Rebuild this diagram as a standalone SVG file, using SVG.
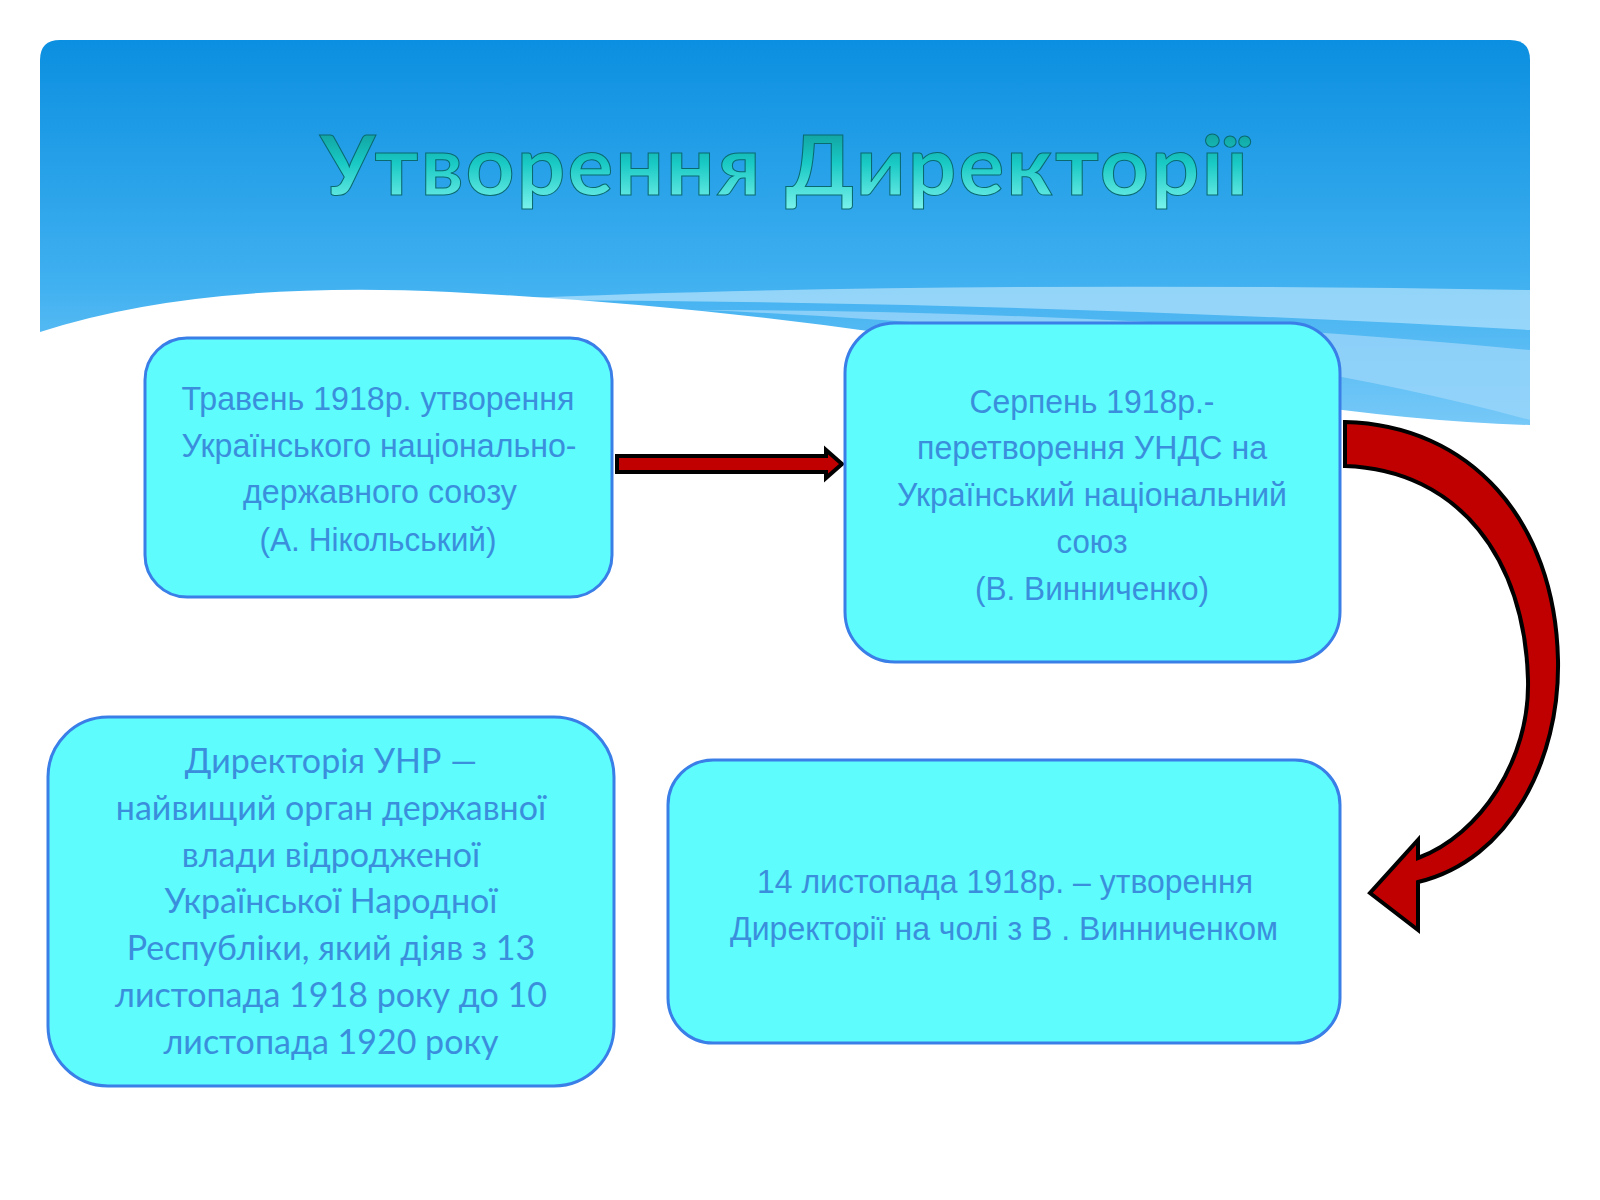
<svg xmlns="http://www.w3.org/2000/svg" width="1600" height="1200" viewBox="0 0 1600 1200">
<defs>
<linearGradient id="sky" x1="0" y1="0" x2="0" y2="1">
<stop offset="0" stop-color="#0B8FE0"/><stop offset="0.6" stop-color="#3FB0F0"/><stop offset="1" stop-color="#7CCBF8"/>
</linearGradient>
<linearGradient id="tt" x1="0" y1="0" x2="0" y2="1">
<stop offset="0" stop-color="#0C8C8C"/><stop offset="0.5" stop-color="#19C9C4"/><stop offset="1" stop-color="#7FF5EE"/>
</linearGradient>
<style>
.box{fill:#5EFCFC;stroke:#3A7EE8;stroke-width:3}
.n{font-family:"Liberation Sans",Arial,sans-serif;font-size:33px;fill:#3A8EDC;text-anchor:middle}
.c{font-family:Lato,"Open Sans",sans-serif;font-size:34px;fill:#3A8EDC;text-anchor:middle}
.arr{fill:#C00000;stroke:#000;stroke-width:4;stroke-linejoin:miter}
</style>
</defs>
<rect width="1600" height="1200" fill="#fff"/>
<path d="M40,60 Q40,40 60,40 L1510,40 Q1530,40 1530,60 L1530,440 L40,440 Z" fill="url(#sky)"/>
<path d="M480,300 Q900,280 1530,290 L1530,330 Q1000,300 480,300 Z" fill="#A8DDFB" opacity="0.8"/>
<path d="M700,310 Q1100,310 1530,350 L1530,420 Q1200,330 700,310 Z" fill="#9AD6FA" opacity="0.8"/>
<path d="M40,332 Q200,280 450,292 Q800,310 1100,370 Q1350,420 1530,425 L1530,1200 L40,1200 Z" fill="#fff"/>
<text x="785" y="195" font-family="Lato,'Open Sans',sans-serif" font-size="82" font-weight="bold" fill="url(#tt)" stroke="#0A6A70" stroke-width="1" text-anchor="middle" textLength="930" lengthAdjust="spacingAndGlyphs" letter-spacing="2">Утворення Директорії</text>

<g id="connectors">
<path class="arr" d="M617,456 L826,456 L826,450 L842,464 L826,478 L826,472 L617,472 Z"/>
<path class="arr" d="M1345,422 C1470,425 1555,520 1558,660 C1560,760 1510,860 1418,882 L1418,930 L1370,893 L1418,840 L1418,858 C1480,835 1530,760 1528,680 C1525,560 1460,470 1345,466 Z"/>
</g>

<g id="n1">
<rect class="box" x="145" y="338" width="467" height="259" rx="42"/>
<text class="n" x="378" y="410" textLength="393" lengthAdjust="spacingAndGlyphs">Травень 1918р. утворення</text>
<text class="n" x="379" y="457" textLength="395" lengthAdjust="spacingAndGlyphs">Українського національно-</text>
<text class="n" x="380" y="503" textLength="274" lengthAdjust="spacingAndGlyphs">державного союзу</text>
<text class="n" x="378" y="551" textLength="237" lengthAdjust="spacingAndGlyphs">(А. Нікольський)</text>
</g>
<g id="n2">
<rect class="box" x="845" y="323" width="495" height="339" rx="50"/>
<text class="n" x="1092" y="413" textLength="245" lengthAdjust="spacingAndGlyphs">Серпень 1918р.-</text>
<text class="n" x="1092" y="459" textLength="350" lengthAdjust="spacingAndGlyphs">перетворення УНДС на</text>
<text class="n" x="1092" y="506" textLength="390" lengthAdjust="spacingAndGlyphs">Український національний</text>
<text class="n" x="1092" y="553" textLength="71" lengthAdjust="spacingAndGlyphs">союз</text>
<text class="n" x="1092" y="600" textLength="234" lengthAdjust="spacingAndGlyphs">(В. Винниченко)</text>
</g>
<g id="n3">
<rect class="box" x="48" y="717" width="566" height="369" rx="60"/>
<text class="c" x="331" y="773">Директорія УНР —</text>
<text class="c" x="331" y="820">найвищий орган державної</text>
<text class="c" x="331" y="867">влади відродженої</text>
<text class="c" x="331" y="913">Української Народної</text>
<text class="c" x="331" y="960">Республіки, який діяв з 13</text>
<text class="c" x="331" y="1007">листопада 1918 року до 10</text>
<text class="c" x="331" y="1054">листопада 1920 року</text>
</g>
<g id="n4">
<rect class="box" x="668" y="760" width="672" height="283" rx="45"/>
<text class="n" x="1005" y="893" textLength="496" lengthAdjust="spacingAndGlyphs">14 листопада 1918р. – утворення</text>
<text class="n" x="1004" y="940" textLength="548" lengthAdjust="spacingAndGlyphs">Директорії на чолі з В . Винниченком</text>
</g>
</svg>
